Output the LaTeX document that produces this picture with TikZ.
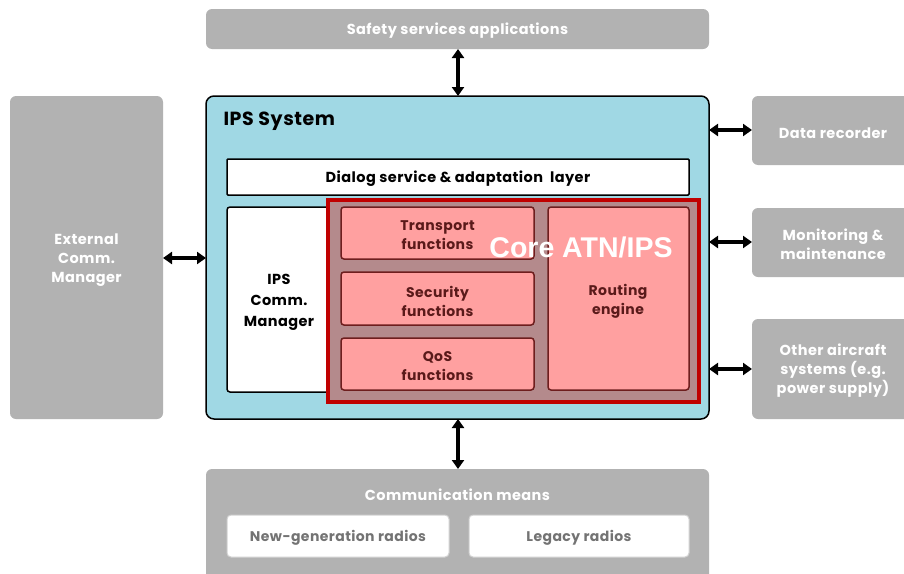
\documentclass[tikz,border=0pt]{standalone}
\usepackage{fontspec}
\setmainfont{Poppins}[LetterSpace=3]
\newfontfamily\arialfont{Liberation Sans}
\usetikzlibrary{arrows.meta}
\definecolor{grayb}{HTML}{B2B2B2}
\definecolor{ipsblue}{HTML}{A0D8E4}
\definecolor{corered}{HTML}{C00000}
\definecolor{corefill}{HTML}{B48A8C}
\definecolor{pinkbox}{HTML}{FFA0A0}
\definecolor{pinkedge}{HTML}{6E1E1E}
\definecolor{pinktext}{HTML}{5A1A1A}
\begin{document}
\begin{tikzpicture}[x=1pt,y=-1pt,
  graybox/.style={fill=grayb,rounded corners=6pt,draw=none},
  graytext/.style={text=white,font=\fontsize{14.5}{19}\selectfont\bfseries,align=center},
  whitebox/.style={fill=white,draw=black,line width=1.5pt,rounded corners=3pt},
  pinkbox/.style={fill=pinkbox,draw=pinkedge,line width=1.5pt,rounded corners=3pt},
  pinklabel/.style={text=pinktext,font=\fontsize{14}{19}\selectfont\bfseries,align=center},
  darrow/.style={{Triangle[length=9pt,width=12pt]}-{Triangle[length=9pt,width=12pt]},line width=3.2pt,black}]
\useasboundingbox (0,0) rectangle (904,573);
% gray outer boxes
\path[graybox] (206,9) rectangle (709,49);
\node[graytext] (safety) at (457.5,31) {Safety services applications};
\path[graybox] (10,96) rectangle (163,419);
\node[graytext] (ext) at (86.5,260) {External\\Comm.\\Manager};
\path[graybox] (752,96) rectangle (910,165);
\node[graytext] (rec) at (833,133) {Data recorder};
\path[graybox] (752,208) rectangle (910,277);
\node[graytext] (mon) at (833,244) {Monitoring \&\\maintenance};
\path[graybox] (752,319) rectangle (910,419);
\node[graytext] (oth) at (833,371) {Other aircraft\\systems (e.g.\\power supply)};
\path[graybox] (206,469) rectangle (709,580);
\node[graytext] (comm) at (457.5,495) {Communication means};
\path[fill=white,draw=grayb!60,line width=1pt,rounded corners=4pt] (227,515) rectangle (449,557);
\node[text=gray!90!black,font=\fontsize{14}{16}\selectfont\bfseries] (ng) at (338,538) {New-generation radios};
\path[fill=white,draw=grayb!60,line width=1pt,rounded corners=4pt] (469,515) rectangle (689,557);
\node[text=gray!90!black,font=\fontsize{14}{16}\selectfont\bfseries] (leg) at (579,538) {Legacy radios};
% IPS system
\path[fill=ipsblue,draw=black,line width=1.5pt,rounded corners=8pt] (206,96) rectangle (709,419);
\node[anchor=west,font=\fontsize{19}{22}\selectfont\bfseries] (ipst) at (220,121) {IPS System};
\path[whitebox,rounded corners=1pt] (227,159) rectangle (689,195);
\node[font=\fontsize{14.5}{18}\selectfont\bfseries] (dlg) at (458,179) {Dialog service \& adaptation\ \ layer};
\path[whitebox] (227,207) rectangle (335,392);
\node[font=\fontsize{14.5}{21}\selectfont\bfseries,align=center] (icm) at (279,302) {IPS\\Comm.\\Manager};
% core
\path[fill=corefill,draw=corered,line width=3.5pt] (328,200) rectangle (699,402);
\path[pinkbox] (341,207) rectangle (534,259);
\node[pinklabel] (tr) at (437.5,235) {Transport\\functions};
\path[pinkbox] (341,272) rectangle (534,325);
\node[pinklabel] (sec) at (437.5,301) {Security\\functions};
\path[pinkbox] (341,338) rectangle (534,390);
\node[pinklabel] (qos) at (437.5,366) {QoS\\functions};
\path[pinkbox] (548,207) rectangle (689,390);
\node[pinklabel] (rt) at (618,301) {Routing\\engine};
\node[text=white,font=\arialfont\fontsize{28.5}{32}\selectfont\bfseries] (core) at (581,247) {Core ATN/IPS};
% arrows
\coordinate (t1) at (458,49); \coordinate (t2) at (458,96);
\draw[darrow] (t1) -- (t2);
\coordinate (b1) at (458,419); \coordinate (b2) at (458,469);
\draw[darrow] (b1) -- (b2);
\coordinate (l1) at (163,258); \coordinate (l2) at (206,258);
\draw[darrow] (l1) -- (l2);
\coordinate (r1a) at (709,130); \coordinate (r1b) at (752,130);
\draw[darrow] (r1a) -- (r1b);
\coordinate (r2a) at (709,242); \coordinate (r2b) at (752,242);
\draw[darrow] (r2a) -- (r2b);
\coordinate (r3a) at (709,369); \coordinate (r3b) at (752,369);
\draw[darrow] (r3a) -- (r3b);
\end{tikzpicture}
\end{document}
